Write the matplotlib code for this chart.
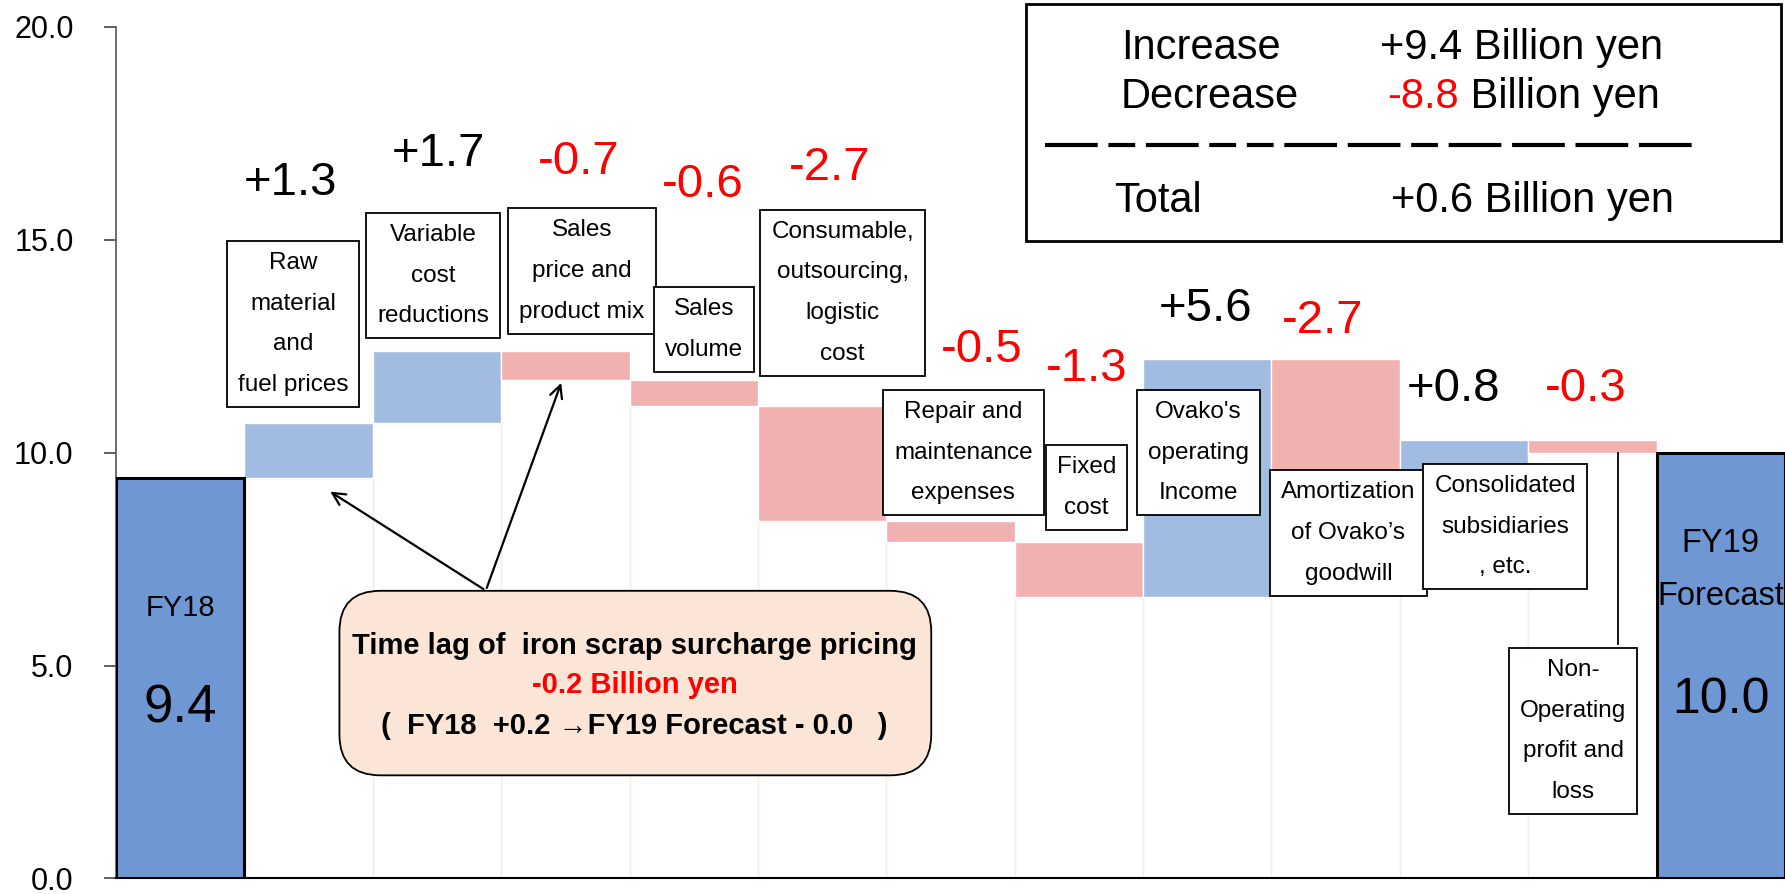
import matplotlib
matplotlib.use("Agg")
import matplotlib.pyplot as plt
from matplotlib.patches import FancyBboxPatch, Rectangle
from matplotlib.lines import Line2D
from matplotlib.text import Annotation
import numpy as np

plt.rcParams["font.family"] = ["Liberation Sans", "DejaVu Sans"]

# --- data (billion yen) ---
START_LABEL = "FY18"
START_VALUE = 9.4
END_LABEL = "FY19\nForecast"
END_VALUE = 10.0
STEP_NAMES = [
    "Raw\nmaterial\nand\nfuel prices",
    "Variable\ncost\nreductions",
    "Sales\nprice and\nproduct mix",
    "Sales\nvolume",
    "Consumable,\noutsourcing,\nlogistic\ncost",
    "Repair and\nmaintenance\nexpenses",
    "Fixed\ncost",
    "Ovako's\noperating\nIncome",
    "Amortization\nof Ovako\u2019s\ngoodwill",
    "Consolidated\nsubsidiaries\n, etc.",
    "Non-\nOperating\nprofit and\nloss",
]
STEP_DELTAS = [1.3, 1.7, -0.7, -0.6, -2.7, -0.5, -1.3, 5.6, -2.7, 0.8, -0.3]
LAG_NOTE = ["Time lag of  iron scrap surcharge pricing",
            "-0.2 Billion yen",
            "(  FY18  +0.2 \u2192FY19 Forecast - 0.0   )"]
Y_TICKS = [0.0, 5.0, 10.0, 15.0, 20.0]

# --- layout of hand-placed annotations (data coords) ---
VALUE_LABEL_XY = [(0.86, 16.33), (2.01, 17.02), (3.10, 16.84), (4.07, 16.28),
                  (5.06, 16.68), (6.24, 12.42), (7.06, 11.97), (7.99, 13.38),
                  (8.90, 13.09), (9.92, 11.49), (10.95, 11.49)]
NAME_BOX_XY = [(0.88, 13.02), (1.97, 14.16), (3.13, 14.27), (4.08, 12.90),
               (5.16, 13.76), (6.10, 10.0), (7.06, 9.18), (7.93, 10.0),
               (9.10, 8.11), (10.32, 8.26), (10.85, 3.46)]

C_TOTAL = "#6f97d3"
C_UP = "#a2bbe1"
C_DOWN = "#f2b1b1"
C_UP_EDGE = "#eceef8"
C_DOWN_EDGE = "#fbecec"

deltas = np.array(STEP_DELTAS)
running = START_VALUE + np.concatenate([[0], np.cumsum(deltas)[:-1]])
bottoms = np.where(deltas > 0, running, running + deltas)
heights = np.abs(deltas)
x_steps = np.arange(1, len(deltas) + 1)
x_end = len(deltas) + 1

fig = plt.figure(figsize=(17.85, 8.94), dpi=100)
ax = fig.add_axes([0.065, 0.0175, 0.935, 0.9523])

# faint invisible base bars (show as thin vertical lines)
for xi, b, d in zip(x_steps, bottoms, deltas):
    ax.bar(xi, b, width=1.0, bottom=0, color="none",
           edgecolor=C_UP_EDGE if d > 0 else C_DOWN_EDGE, linewidth=1.0, zorder=1)

ax.bar(x_steps, heights, bottom=bottoms, width=1.0,
       color=[C_UP if d > 0 else C_DOWN for d in deltas],
       edgecolor="white", linewidth=1.0, zorder=2)
ax.bar([0, x_end], [START_VALUE, END_VALUE], width=1.0, color=C_TOTAL,
       edgecolor="black", linewidth=2.2, zorder=3)

ax.set_xlim(-0.5, x_end + 0.5)
ax.set_ylim(0, 20)
ax.set_yticks(Y_TICKS)
ax.set_yticklabels([f"{t:.1f}" for t in Y_TICKS], fontsize=22)
ax.tick_params(axis="y", length=8.6, width=1.2, pad=22, colors="#444444", labelcolor="black")
ax.set_xticks([])
for s in ("top", "right"):
    ax.spines[s].set_visible(False)
ax.spines["left"].set_color("#555555")
ax.spines["left"].set_linewidth(1.2)
ax.spines["bottom"].set_linewidth(1.5)

# value labels
for d, (lx, ly) in zip(deltas, VALUE_LABEL_XY):
    ax.text(lx, ly, f"{d:+.1f}", ha="center", va="center", fontsize=34,
            color="black" if d > 0 else "red", zorder=5)

# category boxes
for name, (bx, by) in zip(STEP_NAMES, NAME_BOX_XY):
    ax.text(bx, by, name, ha="center", va="center", fontsize=17.5, linespacing=2.1,
            bbox=dict(boxstyle="square,pad=0.45", fc="white", ec="black", lw=1.3), zorder=6)

# connector from Non-operating box to its bar
ax.plot([11.2, 11.2], [5.5, END_VALUE], color="black", lw=1.3, zorder=4)

# totals text
ax.text(0, 6.36, START_LABEL, ha="center", va="center", fontsize=21, zorder=5)
ax.text(0, 3.99, f"{START_VALUE:.1f}", ha="center", va="center", fontsize=38, zorder=5)
ax.text(x_end, 7.25, END_LABEL, ha="center", va="center", fontsize=23.5,
        linespacing=1.9, zorder=5, clip_on=False)
ax.text(x_end, 4.18, f"{END_VALUE:.1f}", ha="center", va="center", fontsize=36, zorder=5)

# time-lag note box
note = FancyBboxPatch((1.24, 2.42), 4.61, 4.335,
                      boxstyle="round,pad=0,rounding_size=0.32", mutation_aspect=3.0,
                      fc="#fbe5d6", ec="black", lw=1.3, zorder=6)
ax.add_patch(note)
ax.text(3.54, 5.45, LAG_NOTE[0], ha="center", va="center", fontsize=21,
        fontweight="bold", zorder=7)
ax.text(3.54, 4.55, LAG_NOTE[1], ha="center", va="center", fontsize=21,
        fontweight="bold", color="red", zorder=7)
ax.text(3.54, 3.59, LAG_NOTE[2], ha="center", va="center", fontsize=21,
        fontweight="bold", zorder=7)
for tx, ty in [(1.15, 9.12), (2.975, 11.70)]:
    ax.annotate("", xy=(tx, ty), xytext=(2.38, 6.76),
                arrowprops=dict(arrowstyle="->,head_length=0.9,head_width=0.45",
                                color="black", lw=1.6), zorder=7)

# summary box (figure coords)
inc = deltas[deltas > 0].sum()
dec = deltas[deltas < 0].sum()
fig.patches.append(Rectangle((0.575, 0.730), 0.423, 0.265, transform=fig.transFigure,
                             fc="white", ec="black", lw=2.0, zorder=10))
fig.text(0.628, 0.946, "Increase", fontsize=30, va="center", zorder=11)
fig.text(0.773, 0.946, f"{inc:+.1f} Billion yen", fontsize=30, va="center", zorder=11)
fig.text(0.628, 0.892, "Decrease", fontsize=30, va="center", zorder=11)
red = fig.text(0.777, 0.892, f"{dec:.1f}", fontsize=30, va="center", color="red", zorder=11)
fig.add_artist(Annotation(" Billion yen", xy=(1, 0.5), xycoords=red,
                          va="center", fontsize=30, zorder=11))
L, S, G = 12.65, 6.43, 2.57
fig.add_artist(Line2D([0.5857, 0.9482], [0.838, 0.838], transform=fig.transFigure,
                      color="black", lw=3.0, zorder=11,
                      dashes=[L, G, S, G, L, G, S, G, S, G, L, G, L, G, S, G,
                              L, G, L, G, L, G, L, G]))
fig.text(0.624, 0.775, "Total", fontsize=30, va="center", zorder=11)
fig.text(0.779, 0.775, f"{inc + dec:+.1f} Billion yen", fontsize=30, va="center", zorder=11)

fig.savefig("out.png", dpi=100)
